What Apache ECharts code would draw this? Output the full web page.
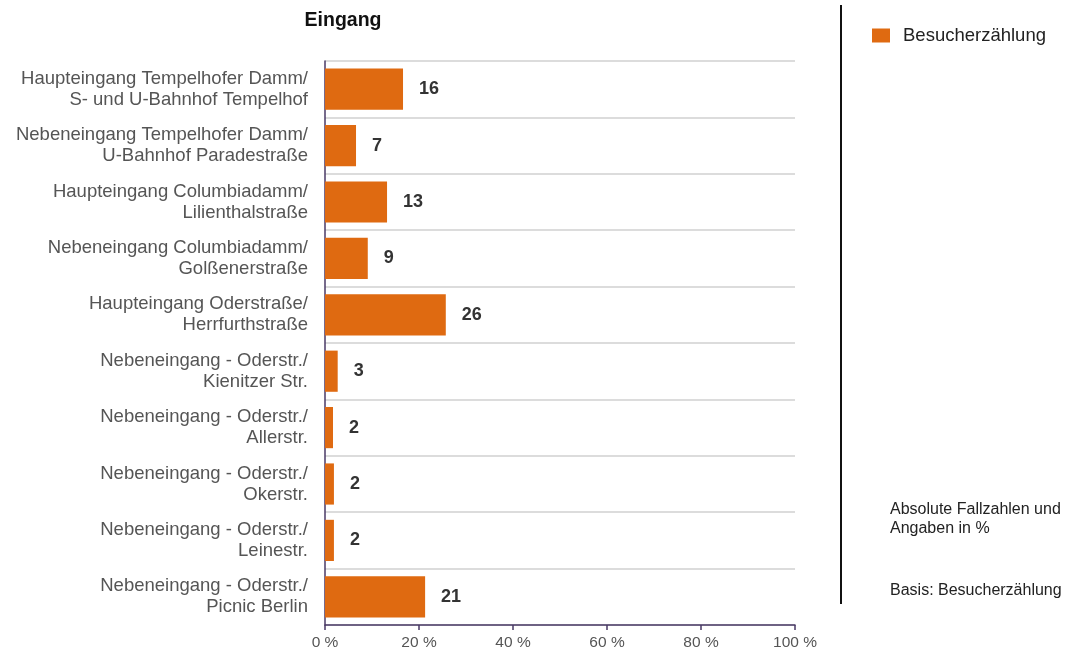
<!DOCTYPE html>
<html>
<head>
<meta charset="utf-8">
<script src="https://cdn.jsdelivr.net/npm/echarts@6/dist/echarts.min.js"></script>
<style>
  html, body { margin: 0; padding: 0; background: #fff; }
  #chart { width: 1072px; height: 652px; }
</style>
</head>
<body>
<div id="chart"></div>
<script>
// Kategorien (Eingänge), von oben nach unten
var categories = [
  "Haupteingang Tempelhofer Damm/\nS- und U-Bahnhof Tempelhof",
  "Nebeneingang Tempelhofer Damm/\nU-Bahnhof Paradestraße",
  "Haupteingang Columbiadamm/\nLilienthalstraße",
  "Nebeneingang Columbiadamm/\nGolßenerstraße",
  "Haupteingang Oderstraße/\nHerrfurthstraße",
  "Nebeneingang - Oderstr./\nKienitzer Str.",
  "Nebeneingang - Oderstr./\nAllerstr.",
  "Nebeneingang - Oderstr./\nOkerstr.",
  "Nebeneingang - Oderstr./\nLeinestr.",
  "Nebeneingang - Oderstr./\nPicnic Berlin"
];
// Anteile in % (Balkenlänge)
var percents = [16.6, 6.6, 13.2, 9.1, 25.7, 2.7, 1.7, 1.9, 1.9, 21.3];
// absolute Fallzahlen (Beschriftung)
var counts = [16, 7, 13, 9, 26, 3, 2, 2, 2, 21];
var xTicks = [0, 20, 40, 60, 80, 100];

var FONT = "Liberation Sans, Arial, sans-serif";
var chart = echarts.init(document.getElementById("chart"));

chart.setOption({
  animation: false,
  title: {
    text: "Eingang",
    left: 338,
    textAlign: "center",
    top: 6,
    textStyle: { fontFamily: FONT, fontSize: 19.5, fontWeight: "bold", color: "#111" }
  },
  legend: {
    data: ["Besucherzählung"],
    left: 867,
    top: 21,
    itemWidth: 18,
    itemHeight: 14,
    icon: "rect",
    textStyle: { fontFamily: FONT, fontSize: 18.5, color: "#222", padding: [0, 0, 0, 8] }
  },
  grid: { left: 325, right: 277, top: 61, bottom: 27, containLabel: false },
  xAxis: {
    type: "value",
    min: 0,
    max: 100,
    interval: 20,
    axisLine: { show: true, lineStyle: { color: "#4a3a66", width: 1.5 } },
    axisTick: { show: true, length: 5, lineStyle: { color: "#4a3a66", width: 1.5 } },
    splitLine: { show: false },
    axisLabel: {
      fontFamily: FONT, fontSize: 15.5, color: "#555", margin: 10,
      formatter: function (v) { return xTicks.indexOf(v) >= 0 ? v + " %" : ""; }
    }
  },
  yAxis: {
    type: "category",
    inverse: true,
    data: categories,
    axisLine: { show: true, lineStyle: { color: "#4a3a66", width: 1.5 } },
    axisTick: { show: false },
    splitLine: { show: true, lineStyle: { color: "#dcdcdc", width: 2 } },
    axisLabel: {
      fontFamily: FONT, fontSize: 18.5, color: "#555", margin: 17,
      align: "right", lineHeight: 21
    }
  },
  series: [{
    name: "Besucherzählung",
    type: "bar",
    data: percents,
    barCategoryGap: "27%",
    itemStyle: { color: "#df6a11" },
    label: {
      show: true,
      position: "right",
      distance: 16,
      fontFamily: FONT,
      fontSize: 18,
      fontWeight: "bold",
      color: "#333",
      formatter: function (p) { return counts[p.dataIndex]; }
    }
  }],
  graphic: [
    {
      type: "line",
      shape: { x1: 841, y1: 5, x2: 841, y2: 604 },
      style: { stroke: "#111", lineWidth: 2 }
    },
    {
      type: "text",
      left: 890,
      top: 500,
      style: {
        text: "Absolute Fallzahlen und\nAngaben in %",
        font: "16px " + FONT,
        fill: "#222",
        lineHeight: 19
      }
    },
    {
      type: "text",
      left: 890,
      top: 581,
      style: {
        text: "Basis: Besucherzählung",
        font: "16px " + FONT,
        fill: "#222",
        lineHeight: 19
      }
    }
  ]
});
</script>
</body>
</html>
